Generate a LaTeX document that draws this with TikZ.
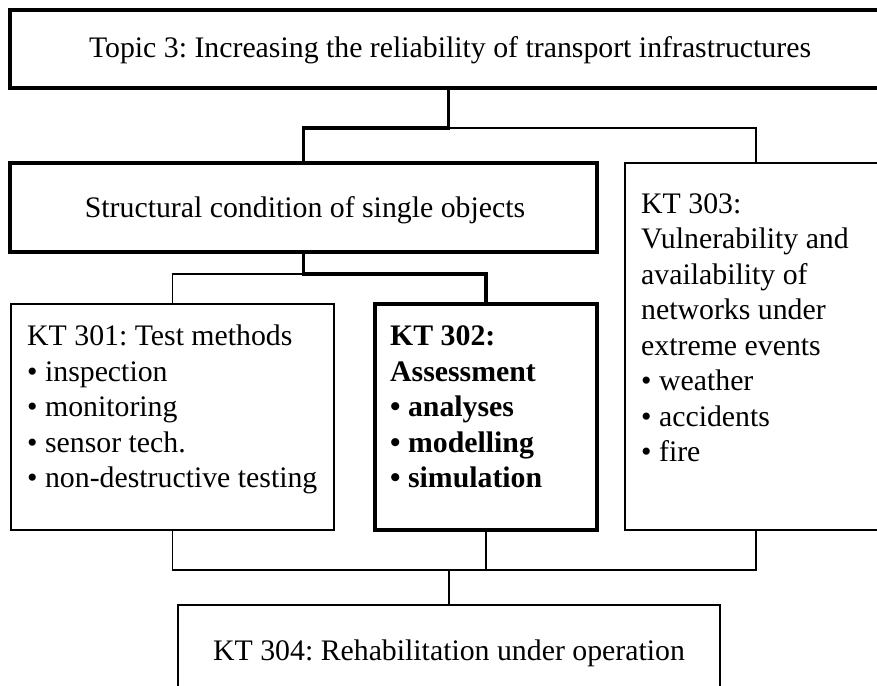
\documentclass[tikz,border=0pt]{standalone}
\usepackage{fontspec}
\setmainfont{Liberation Serif}
\frenchspacing
\begin{document}
\begin{tikzpicture}[x=1pt,y=-1pt,
  every node/.style={font=\fontsize{29.8}{35.5}\selectfont},
  heavybox/.style={draw=black,line width=3.2pt,inner sep=0pt},
  lightbox/.style={draw=black,line width=1.6pt,inner sep=0pt},
  heavyline/.style={draw=black,line width=3.2pt},
  lightline/.style={draw=black,line width=1.6pt},
  title/.style={anchor=base,inner sep=0pt},
  listtext/.style={anchor=north west,align=left,inner sep=0pt}]
\useasboundingbox (0,0) rectangle (877,685);
\clip (0,0) rectangle (877,685);

% boxes
\node[heavybox,minimum width=877pt,minimum height=78pt] (topic) at (448.5,49) {};
\node[heavybox,minimum width=587pt,minimum height=89pt] (struct) at (303.5,207.5) {};
\node[lightbox,minimum width=323pt,minimum height=226pt] (kt301) at (172.5,417) {};
\node[heavybox,minimum width=222pt,minimum height=226pt] (kt302) at (486,417) {};
\node[lightbox,minimum width=262pt,minimum height=367pt] (kt303) at (756,346.5) {};
\node[lightbox,minimum width=542pt,minimum height=120pt] (kt304) at (449,665) {};

% box contents
\node[title] (topictext) at (450,58)
  {Topic 3: Increasing the reliability of transport infrastructures};
\node[title] (structtext) at (305,217)
  {Structural condition of single objects};
\node[title] (kt304text) at (449,660)
  {KT 304: Rehabilitation under operation};
\node[listtext] (kt301text) at (27,325) {KT 301: Test methods\\
  \textbullet{} inspection\\
  \textbullet{} monitoring\\
  \textbullet{} sensor tech.\\
  \textbullet{} non-destructive testing};
\node[listtext,font=\fontsize{29.8}{35.5}\selectfont\bfseries] (kt302text) at (390,325.5) {KT 302:\\
  Assessment\\
  \textbullet{} analyses\\
  \textbullet{} modelling\\
  \textbullet{} simulation};
\node[listtext] (kt303text) at (641,193) {KT 303:\\
  Vulnerability and\\
  availability of\\
  networks under\\
  extreme events\\
  \textbullet{} weather\\
  \textbullet{} accidents\\
  \textbullet{} fire};

% junction points
\coordinate (ja) at (448.5,128);
\coordinate (jb) at (303.5,274);
\coordinate (jc) at (449,570);

% connectors, level 1
\draw[heavyline] (topic.south) -- (ja) -| (struct.north);
\draw[lightline] (ja) -| (kt303.north);
% connectors, level 2
\draw[heavyline] (struct.south) -- (jb) -| (kt302.north);
\draw[lightline] (jb) -| (kt301.north);
% connectors, level 3
\draw[lightline] (kt301.south) |- (jc);
\draw[lightline] (kt303.south) |- (jc);
\draw[lightline] (kt302.south) -- (kt302.south |- jc);
\draw[lightline] (jc) -- (kt304.north);
\end{tikzpicture}
\end{document}
